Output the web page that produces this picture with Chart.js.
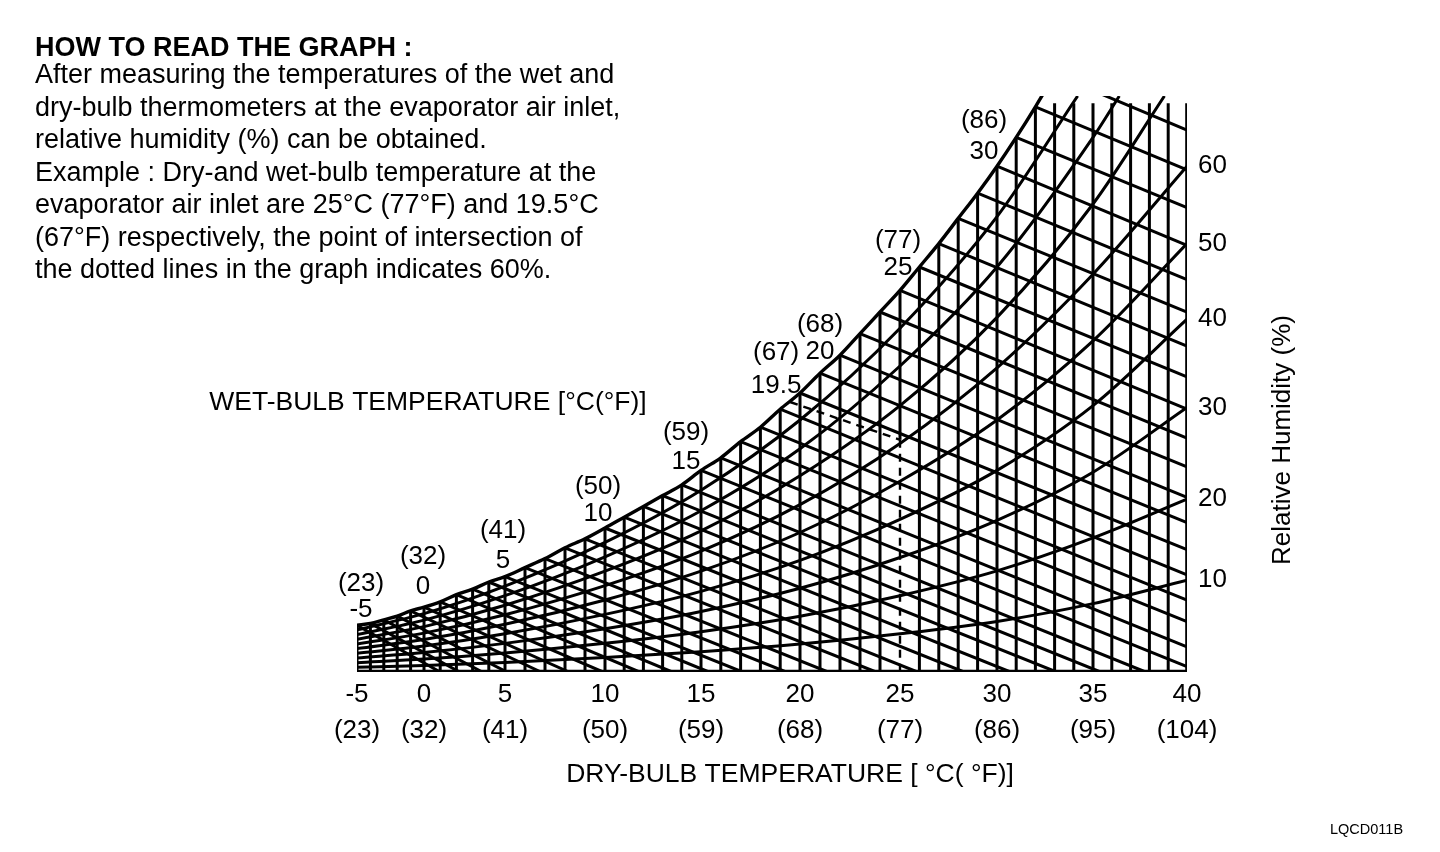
<!DOCTYPE html>
<html>
<head>
<meta charset="utf-8">
<script src="https://cdn.jsdelivr.net/npm/chart.js@4.4.1/dist/chart.umd.min.js"></script>
<style>
  html, body { margin: 0; padding: 0; background: #fff; }
  #wrap { position: relative; width: 1440px; height: 852px; overflow: hidden; }
  #c { position: absolute; left: 0; top: 0; }
  .txt { position: absolute; font-family: "Liberation Sans", Arial, sans-serif; color: #000; white-space: nowrap; }
</style>
</head>
<body>
<div id="wrap">
  <canvas id="c"></canvas>
  <div class="txt" style="left:35px;top:31px;font-size:27px;line-height:32.5px;font-weight:bold;">HOW TO READ THE GRAPH :</div>
  <div class="txt" style="left:35px;top:58px;font-size:27px;line-height:32.5px;">
    After measuring the temperatures of the wet and<br>
    dry-bulb thermometers at the evaporator air inlet,<br>
    relative humidity (%) can be obtained.<br>
    Example : Dry-and wet-bulb temperature at the<br>
    evaporator air inlet are 25°C (77°F) and 19.5°C<br>
    (67°F) respectively, the point of intersection of<br>
    the dotted lines in the graph indicates 60%.
  </div>
  <div class="txt" style="left:1330px;top:821px;font-size:14.5px;">LQCD011B</div>
</div>
<script>
// ---------------- DATA ----------------
// dry-bulb axis tick labels
const xTickC = [-5, 0, 5, 10, 15, 20, 25, 30, 35, 40];
const xTickF = [23, 32, 41, 50, 59, 68, 77, 86, 95, 104];

// saturation curve (100 %), one value per 1 °C starting at -5 °C (humidity units of the chart)
const satT0 = -5;
const satW = [2.6, 2.7, 2.9, 3.1, 3.4, 3.6, 3.9, 4.3, 4.6, 5.0,
              5.3, 5.8, 6.3, 6.9, 7.4, 8.0, 8.6, 9.2, 9.8, 10.4,
              11.2, 11.9, 12.8, 13.6, 14.6, 15.5, 16.6, 17.6, 18.8, 20.0,
              21.2, 22.5, 23.8, 25.2, 26.6, 28.1, 29.7, 31.4, 33.2];

// dry-bulb lines every 1 °C
const dryLines = Array.from({length: 46}, (_, i) => i - 5);
const vertTop = 31.6;          // top end of the dry-bulb lines right of the saturation curve

// wet-bulb lines, every 1 °C from -5 to 33 °C
const wbT = Array.from({length: 39}, (_, i) => i - 5);
// dry-bulb value where the lines for -5 … 14 °C reach the bottom
const wbBottomEnd = [1.0, 2.2, 3.6, 5.1, 6.8, 8.2, 9.9, 11.8, 13.5, 15.4,
                     17.1, 19.3, 21.4, 23.8, 25.9, 28.3, 30.7, 33.1, 35.4, 37.8];
// humidity value where the lines for 15 … 33 °C reach the 40 °C edge
const wbRightEnd = [0.3, 1.4, 2.8, 4.0, 5.4, 6.8, 8.3, 9.7, 11.4, 13.0,
                    14.6, 16.4, 18.1, 20.0, 21.8, 23.7, 25.8, 27.9, 30.1];

// relative humidity curves
const rhT = [-5, 0, 5, 10, 15, 20, 25, 30, 35, 40];
const rhLevels = [10, 20, 30, 40, 50, 60, 70, 80, 90];
const rh10 = [0.26, 0.36, 0.53, 0.80, 1.12, 1.55, 2.12, 2.81, 3.8, 5.1];
const rh20 = [0.52, 0.72, 1.06, 1.60, 2.24, 3.10, 4.24, 5.62, 7.45, 9.6];
const rh30 = [0.78, 1.08, 1.59, 2.40, 3.36, 4.65, 6.36, 8.43, 11.1, 14.7];
const rh40 = [1.04, 1.44, 2.12, 3.20, 4.48, 6.20, 8.48, 11.2, 14.8, 19.6];
const rh50 = [1.30, 1.80, 2.65, 4.00, 5.60, 7.75, 10.6, 14.0, 18.4, 23.8];
const rh60 = [1.56, 2.16, 3.18, 4.80, 6.72, 9.30, 12.7, 16.9, 22.1, 28.1];
const rh70 = [1.82, 2.52, 3.71, 5.60, 7.84, 10.9, 14.8, 19.7, 26.0];
const rh80 = [2.08, 2.88, 4.24, 6.40, 8.96, 12.4, 17.0, 22.5, 29.7];
const rh90 = [2.34, 3.24, 4.77, 7.20, 10.1, 14.0, 19.1, 25.3];
const rhTopExit = {70: 38.8, 80: 36.4, 90: 34.2};   // dry-bulb where the curve leaves the top
const yTop = 32;

// wet-bulb labels on the saturation curve
const wbLabelC = [-5, 0, 5, 10, 15, 20, 25, 30];
const wbLabelF = [23, 32, 41, 50, 59, 68, 77, 86];

// worked example: dry 25 °C, wet 19.5 °C -> 60 %
const exWet = 19.5, exWetF = 67, exWetU = 15.0;
const exDry = 25, exDryU = 12.9;

// ---------------- dry-bulb scale as drawn (non-uniform spacing) ----------------
const xWarpT = [-5, 0, 5, 10, 15, 20, 25, 30, 35, 40];
const xWarpF = [0, 67/830, 148/830, 248/830, 344/830, 443/830, 543/830, 640/830, 736/830, 1];
function pw(v, A, B) {
  const n = A.length - 1;
  let i = 1;
  while (i < n && v > A[i]) i++;
  return B[i-1] + (v - A[i-1]) * (B[i] - B[i-1]) / (A[i] - A[i-1]);
}
class WarpScale extends Chart.LinearScale {
  getPixelForValue(value) {
    if (value === null || value === undefined || isNaN(value)) return NaN;
    return this.getPixelForDecimal(pw(value, xWarpT, xWarpF));
  }
  getValueForPixel(pixel) {
    return pw(this.getDecimalForPixel(pixel), xWarpF, xWarpT);
  }
}
WarpScale.id = 'warp';
WarpScale.defaults = Chart.LinearScale.defaults;
Chart.register(WarpScale);

// ---------------- build datasets ----------------
const FONT = '"Liberation Sans", Arial, sans-serif';
const LW = 3.0;
const ds = [];
function addLine(pts, extra) {
  ds.push(Object.assign({
    data: pts, showLine: true, pointRadius: 0, pointHoverRadius: 0,
    borderColor: '#000', borderWidth: LW, fill: false, tension: 0
  }, extra || {}));
}
const satAt = t => satW[t - satT0];

// dry-bulb verticals
dryLines.forEach(t => {
  const idx = t - satT0;
  const top = Math.min(idx < satW.length ? satW[idx] : vertTop, vertTop);
  const bottom = (t === exDry) ? exDryU : 0;
  addLine([{x: t, y: bottom}, {x: t, y: top}], t === 40 ? {borderWidth: 3.6} : {});
});

// wet-bulb lines
wbT.forEach((T, i) => {
  const start = {x: T, y: satAt(T)};
  const end = i < wbBottomEnd.length ? {x: wbBottomEnd[i], y: 0}
                                     : {x: 40, y: wbRightEnd[i - wbBottomEnd.length]};
  addLine([start, end]);
});

// relative humidity curves
[rh10, rh20, rh30, rh40, rh50, rh60, rh70, rh80, rh90].forEach((c, k) => {
  const pts = c.map((v, j) => ({x: rhT[j], y: v}));
  const lvl = rhLevels[k];
  if (rhTopExit[lvl] !== undefined) pts.push({x: rhTopExit[lvl], y: yTop});
  addLine(pts, {cubicInterpolationMode: 'monotone'});
});

// saturation curve
addLine(satW.map((v, i) => ({x: satT0 + i, y: v})), {cubicInterpolationMode: 'monotone', borderWidth: 3.4});

// bottom edge
addLine([{x: -5, y: 0}, {x: 40, y: 0}], {borderWidth: 4.5});

// dotted example lines
addLine([{x: exWet, y: exWetU}, {x: exDry, y: exDryU}], {borderWidth: 2.4, borderDash: [8, 6]});
addLine([{x: exDry, y: exDryU}, {x: exDry, y: 0}], {borderWidth: 2.4, borderDash: [8, 6]});

// ---------------- text plugin ----------------
const wbLabelOffsets = {   // [dx, dy first line, dy second line] in px from the curve point
  '-5': [4, -41, -15], '0': [-1, -50, -20], '5': [-2, -46, -16], '10': [-7, -41, -14],
  '15': [-15, -38, -9], '20': [20, -68, -41], '25': [-2, -50, -23], '30': [-13, -45, -14],
  '19.5': [-14, -49, -16]
};
const textPlugin = {
  id: 'chartTexts',
  afterDatasetsDraw(chart) {
    const {ctx, scales: {x, y}} = chart;
    ctx.save();
    ctx.fillStyle = '#000';
    ctx.textAlign = 'center';
    ctx.textBaseline = 'middle';
    ctx.font = '26px ' + FONT;
    const put = (c, f, u) => {
      const o = wbLabelOffsets[String(c)];
      const px = x.getPixelForValue(c), py = y.getPixelForValue(u);
      ctx.fillText('(' + f + ')', px + o[0], py + o[1]);
      ctx.fillText(String(c), px + o[0], py + o[2]);
    };
    wbLabelC.forEach((c, i) => put(c, wbLabelF[i], satAt(c)));
    put(exWet, exWetF, exWetU);

    ctx.font = '26.5px ' + FONT;
    ctx.fillText('WET-BULB TEMPERATURE [°C(°F)]', 428, 403);
    ctx.fillText('DRY-BULB TEMPERATURE [ °C( °F)]', 790, 775);

    ctx.font = '26px ' + FONT;
    ctx.translate(1283, 440);
    ctx.rotate(-Math.PI / 2);
    ctx.fillText('Relative Humidity (%)', 0, 0);
    ctx.restore();
  }
};

// ---------------- chart ----------------
const rhRightU = [rh10, rh20, rh30, rh40, rh50, rh60].map(c => c[c.length - 1]);
Chart.defaults.font.family = FONT;
Chart.defaults.color = '#000';

new Chart(document.getElementById('c'), {
  type: 'scatter',
  data: { datasets: ds },
  options: {
    responsive: true,
    maintainAspectRatio: false,
    animation: false,
    events: [],
    layout: { padding: { left: 357, right: 20, top: 96, bottom: 10 } },
    plugins: { legend: { display: false }, tooltip: { enabled: false }, title: { display: false } },
    scales: {
      x: {
        type: 'warp', position: 'bottom', min: -5, max: 40,
        grid: { display: false }, border: { display: false },
        afterBuildTicks: s => { s.ticks = xTickC.map(v => ({value: v})); },
        afterFit: s => { s.height = 852 - 672 - 10; },
        ticks: {
          autoSkip: false, maxRotation: 0, minRotation: 0, padding: -3,
          font: { size: 26, lineHeight: 1.385 }, color: '#000',
          callback: (v, i) => [String(xTickC[i]), '(' + xTickF[i] + ')']
        }
      },
      y: {
        type: 'linear', position: 'right', min: 0, max: yTop,
        grid: { display: false }, border: { display: false },
        afterBuildTicks: s => { s.ticks = rhRightU.map(v => ({value: v})); },
        afterFit: s => { s.width = 1440 - 1187 - 20; },
        ticks: {
          padding: 3, font: { size: 26 }, color: '#000',
          callback: (v, i) => String(rhLevels[i])
        }
      }
    }
  },
  plugins: [textPlugin]
});
</script>
</body>
</html>
